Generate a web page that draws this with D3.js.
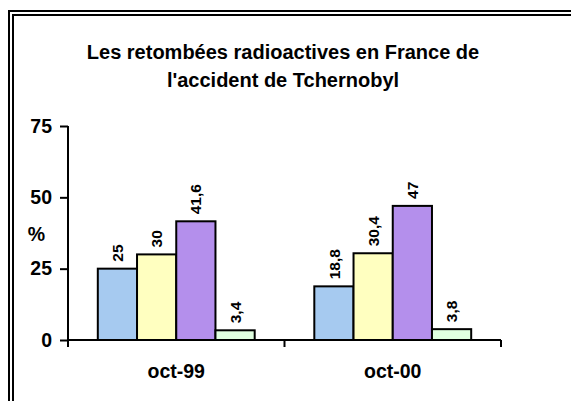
<!DOCTYPE html>
<html>
<head>
<meta charset="utf-8">
<script src="https://cdn.jsdelivr.net/npm/d3@7"></script>
<style>
html,body{margin:0;padding:0;background:#fff;}
svg{display:block;}
text{font-family:"Liberation Sans",Arial,sans-serif;font-weight:bold;fill:#000;}
</style>
</head>
<body>
<svg id="chart" width="571" height="401"></svg>
<script>
const title = ["Les retombées radioactives en France de", "l'accident de Tchernobyl"];
const categories = ["oct-99", "oct-00"];
const seriesNames = ["Série 1", "Série 2", "Série 3", "Série 4"];
const seriesColors = ["#a6caf0", "#ffffc0", "#b48fec", "#e0ffe0"];
const values99 = [25, 30, 41.6, 3.4];
const values00 = [18.8, 30.4, 47, 3.8];
const yTicks = [0, 25, 50, 75];
const yLabel = "%";

const data = categories.map((c, i) => ({cat: c, vals: [values99, values00][i]}));
const fr = d3.formatLocale({decimal: ",", thousands: " ", grouping: [3], currency: ["", " €"]});
const fmt = v => fr.format(",")(v);

const svg = d3.select("#chart");

// double frame
svg.append("rect").attr("x", 9).attr("y", 11).attr("width", 700).attr("height", 500)
  .attr("fill", "none").attr("stroke", "#000").attr("stroke-width", 2);
svg.append("rect").attr("x", 13).attr("y", 15).attr("width", 700).attr("height", 500)
  .attr("fill", "none").attr("stroke", "#000").attr("stroke-width", 2);

// title
svg.append("text").attr("x", 283).attr("y", 59).attr("text-anchor", "middle")
  .style("font-size", "20px")
  .selectAll("tspan").data(title).join("tspan")
  .attr("x", 283).attr("dy", (d, i) => i ? 28 : 0).text(d => d);

const y = d3.scaleLinear().domain([0, 75]).range([340, 126]);
const x0 = d3.scaleBand().domain(categories).range([68, 501]).padding(0);
const x1 = d3.scaleBand().domain(seriesNames).range([0, x0.bandwidth()]).paddingInner(0).paddingOuter(0.76);
const color = d3.scaleOrdinal().domain(seriesNames).range(seriesColors);

// bars
const g = svg.append("g");
const grp = g.selectAll("g.cat").data(data).join("g")
  .attr("transform", d => `translate(${x0(d.cat)},0)`);
grp.selectAll("rect").data(d => d.vals.map((v, i) => ({s: seriesNames[i], v})))
  .join("rect")
  .attr("x", d => x1(d.s)).attr("width", x1.bandwidth())
  .attr("y", d => y(d.v)).attr("height", d => y(0) - y(d.v))
  .attr("fill", d => color(d.s)).attr("stroke", "#000").attr("stroke-width", 2);
grp.selectAll("text").data(d => d.vals.map((v, i) => ({s: seriesNames[i], v})))
  .join("text")
  .attr("transform", d => `translate(${x1(d.s) + x1.bandwidth() / 2},${y(d.v) - 7}) rotate(-90)`)
  .attr("dy", "0.36em")
  .style("font-size", "15.5px")
  .text(d => fmt(d.v));

// y axis
const yAxis = svg.append("g").attr("transform", "translate(68,0)")
  .call(d3.axisLeft(y).tickValues(yTicks).tickSize(8).tickPadding(8));
yAxis.select(".domain").attr("stroke-width", 2).attr("d", "M0,126V347");
yAxis.selectAll(".tick line").attr("stroke-width", 2);
yAxis.selectAll(".tick text").style("font-size", "19.5px").attr("font-family", null);

// x axis
const xAxis = svg.append("g").attr("transform", "translate(0,340)")
  .call(d3.axisBottom(x0).tickSize(0).tickPadding(0));
xAxis.select(".domain").attr("stroke-width", 2).attr("d", "M68,0H501");
xAxis.selectAll(".tick text").attr("y", 38).attr("dy", null).style("font-size", "19.5px").attr("font-family", null);
xAxis.selectAll(".sep").data(x0.domain().concat(["end"])).join("line")
  .attr("class", "sep")
  .attr("x1", (d, i) => i < categories.length ? x0(d) : x0.range()[1])
  .attr("x2", (d, i) => i < categories.length ? x0(d) : x0.range()[1])
  .attr("y1", 0).attr("y2", 7).attr("stroke", "#000").attr("stroke-width", 2);

// y label
svg.append("text").attr("x", 36.5).attr("y", 241).attr("text-anchor", "middle")
  .style("font-size", "19.5px").text(yLabel);
</script>
</body>
</html>
